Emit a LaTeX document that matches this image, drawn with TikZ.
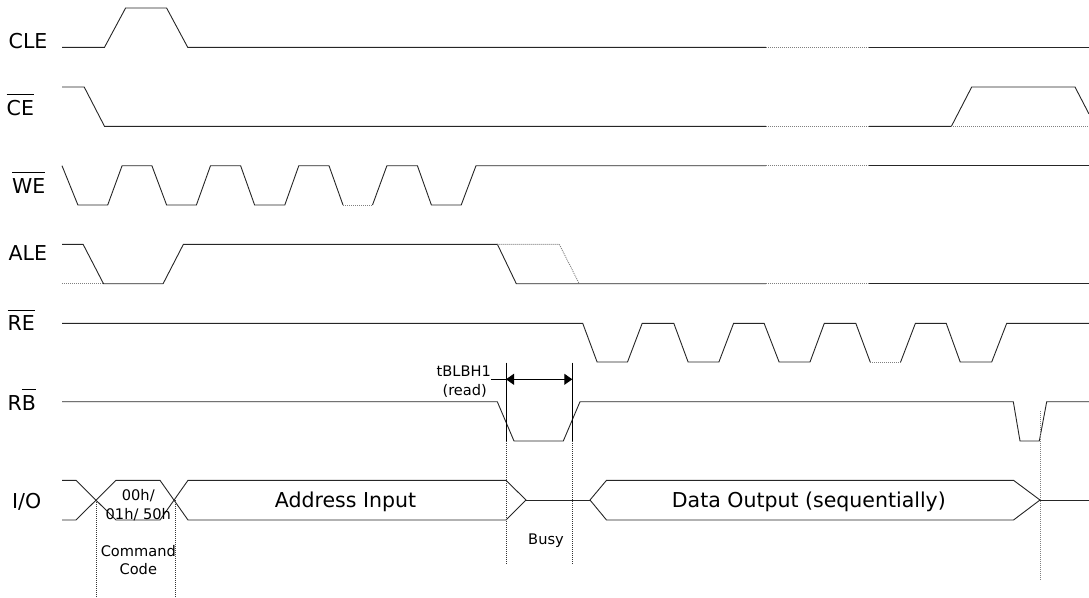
\documentclass[tikz,border=0pt]{standalone}
\usepackage{fontspec}
\setmainfont{DejaVu Sans}
\usetikzlibrary{arrows.meta}
\newcommand{\ovl}[1]{\vbox{\hrule height 0.9pt\kern 5pt\hbox{#1}}}
\begin{document}
\begin{tikzpicture}[x=1pt,y=-1pt,
  wave/.style={line width=0.9pt, black!85, line join=miter},
  gapdot/.style={line width=0.9pt, gray, dash pattern=on 1pt off 1pt},
  guide/.style={line width=0.7pt, black!80, dash pattern=on 1pt off 1pt},
  marker/.style={line width=0.9pt, black},
  siglabel/.style={font=\fontsize{20.5}{24}\selectfont, inner sep=0pt, anchor=base west},
  small/.style={font=\fontsize{14.6}{17}\selectfont, inner sep=0pt, anchor=base},
  big/.style={font=\fontsize{20.5}{24}\selectfont, inner sep=0pt, anchor=base},
]
\useasboundingbox (0,0) rectangle (1089,597);

% ---------- labels ----------
\node[siglabel] (lcle) at (8.5,48.3) {CLE};
\node[siglabel] (lce)  at (6.5,115) {\ovl{CE}};
\node[siglabel] (lwe)  at (12,193.3) {\ovl{WE}};
\node[siglabel] (lale) at (8.5,260) {ALE};
\node[siglabel] (lre)  at (7.5,330.7) {\ovl{RE}};
\node[siglabel] (lrb)  at (7.5,410) {R\ovl{B}};
\node[siglabel] (lio)  at (12,508) {I/O};

% ---------- CLE ----------
\draw[wave] (62,47.3) -- (104.5,47.3) -- (125.6,8) -- (166.6,8) -- (187.7,47.3) -- (765.8,47.3);
\draw[gapdot] (765.8,47.3) -- (869.1,47.3);
\draw[wave] (869.1,47.3) -- (1089,47.3);

% ---------- CE ----------
\draw[wave] (62,87) -- (84.2,87) -- (104.5,126.3) -- (765.8,126.3);
\draw[gapdot] (765.8,126.3) -- (869.1,126.3);
\draw[wave] (869.1,126.3) -- (951.4,126.3) -- (971.7,87) -- (1075,87) -- (1089,114);
\draw[gapdot] (951.4,126.3) -- (1089,126.3);

% ---------- WE ----------
\draw[wave] (62,165.7) -- (77.9,205) -- (107.7,205) -- (122.1,165.7) -- (151.9,165.7)
  -- (166.6,205) -- (196.4,205) -- (210.5,165.7) -- (240.6,165.7) -- (254.6,205)
  -- (284.8,205) -- (298.8,165.7) -- (329,165.7) -- (343,205);
\draw[gapdot] (343,205) -- (372.5,205);
\draw[wave] (372.5,205) -- (386.9,165.7) -- (417.4,165.7) -- (431.4,205) -- (461.2,205)
  -- (476,165.7) -- (765.8,165.7);
\draw[gapdot] (765.8,165.7) -- (869.1,165.7);
\draw[wave] (869.1,165.7) -- (1089,165.7);

% ---------- ALE ----------
\draw[gapdot] (62,283.7) -- (103.5,283.7);
\draw[wave] (62,244.3) -- (83.1,244.3) -- (103.5,283.7) -- (163.1,283.7) -- (183.4,244.3)
  -- (497.4,244.3) -- (516.3,283.7) -- (765.8,283.7);
\draw[gapdot] (765.8,283.7) -- (869.1,283.7);
\draw[wave] (869.1,283.7) -- (1089,283.7);
\draw[gapdot] (497.4,244.3) -- (559.3,244.3) -- (579.2,283.7);

% ---------- RE ----------
\draw[wave] (62,323.3) -- (582.7,323.3) -- (597.1,362) -- (627.5,362) -- (642.2,323.3)
  -- (673.8,323.3) -- (688.1,362) -- (718.9,362) -- (733.6,323.3) -- (764.1,323.3)
  -- (779.1,362) -- (810,362) -- (824.3,323.3) -- (855.8,323.3) -- (870.2,362);
\draw[gapdot] (870.2,362) -- (900.6,362);
\draw[wave] (900.6,362) -- (915.4,323.3) -- (946.2,323.3) -- (960.2,362) -- (991.7,362)
  -- (1006.7,323.3) -- (1089,323.3);

% ---------- RB ----------
\draw[wave] (62,401.7) -- (497.3,401.7) -- (514,441) -- (563.3,441) -- (580,401.7)
  -- (1013.3,401.7) -- (1020,441) -- (1039.3,441) -- (1046.7,401.7) -- (1089,401.7);

% ---------- I/O ----------
\draw[wave] (62,480.3) -- (76,480.3) -- (116,520) -- (160,520) -- (188,480.3) -- (506,480.3)
  -- (526,500) -- (506,520) -- (188,520) -- (160,480.3) -- (116,480.3) -- (76,520) -- (62,520);
\draw[wave] (526,500) -- (590,500);
\draw[wave] (590,500) -- (606.5,480.3) -- (1013.5,480.3) -- (1040,500)
  -- (1013.5,520) -- (606.5,520) -- cycle;
\draw[wave] (1040,500) -- (1089,500);

% ---------- timing markers ----------
\coordinate (m1t) at (506,362.7);
\coordinate (m1b) at (506,441);
\coordinate (m1e) at (506,565);
\coordinate (m2t) at (572.3,362.7);
\coordinate (m2b) at (572.3,441);
\coordinate (m2e) at (572.3,565);
\draw[marker] (m1t) -- (m1b);
\draw[marker] (m2t) -- (m2b);
\draw[guide] (m1b) -- (m1e);
\draw[guide] (m2b) -- (m2e);
\coordinate (a1) at (506,379.3);
\coordinate (a2) at (572.3,379.3);
\draw[marker, {Triangle[length=8pt,width=11pt]}-{Triangle[length=8pt,width=11pt]}] (a1) -- (a2);

\coordinate (c1t) at (96.5,500);
\coordinate (c1b) at (96.5,597);
\coordinate (c2t) at (175,500);
\coordinate (c2b) at (175,597);
\coordinate (d1t) at (1040,411);
\coordinate (d1b) at (1040,581);
\draw[guide] (c1t) -- (c1b);
\draw[guide] (c2t) -- (c2b);
\draw[guide, gray] (d1t) -- (d1b);

% ---------- texts ----------
\node[small, anchor=base east] (tb) at (491,376.7) {tBLBH1};
\draw[marker, line width=0.7pt] (tb.base east) ++(0,2.6) coordinate (tbl) -- (a1);
\node[small] (rd) at (464.7,395) {(read)};
\node[small] (c00) at (138.3,500) {00h/};
\node[small] (c01) at (138.3,519) {01h/ 50h};
\node[small] (cmd) at (138.3,556.7) {Command};
\node[small] (cod) at (138.3,574.5) {Code};
\node[small] (busy) at (546,544.5) {Busy};
\node[big] (addr) at (345.5,507.3) {Address Input};
\node[big] (dout) at (808.9,507.3) {Data Output (sequentially)};
\end{tikzpicture}
\end{document}
